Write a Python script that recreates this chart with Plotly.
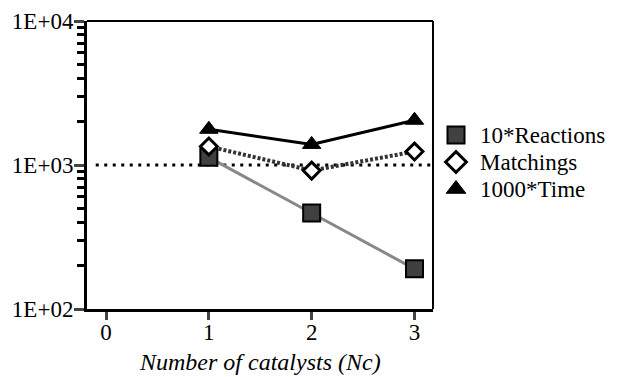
import plotly.graph_objects as go

nc = [1, 2, 3]
reactions10 = [1130, 465, 190]
matchings = [1345, 915, 1240]
time1000 = [1770, 1390, 2045]
ref_level = 1000
y_ticks = [100, 1000, 10000]
y_labels = ["1E+02", "1E+03", "1E+04"]
x_ticks = [0, 1, 2, 3]
x_title = "Number of catalysts (Nc)"
legend_names = ["10*Reactions", "Matchings", "1000*Time"]

FONT = "Liberation Serif, Times New Roman, Times, serif"

# pixel geometry of the figure
W, H = 618, 377
L, R, T, B = 87, 8, 21, 68
PLOT_RIGHT = 433
pw = W - L - R
main_dom = (PLOT_RIGHT - L) / pw
leg_dom0 = (443 - L) / pw

styles = [
    dict(line=dict(color="#888888", width=3),
         marker=dict(symbol="square", size=17, color="#404040", line=dict(color="black", width=2))),
    dict(line=dict(color="#333333", width=4, dash="3px,2px"),
         marker=dict(symbol="diamond", size=13, color="white", line=dict(color="black", width=3))),
    dict(line=dict(color="black", width=3),
         marker=dict(symbol="triangle-up", size=16, color="black", line=dict(color="black", width=1))),
]
values = [reactions10, matchings, time1000]

fig = go.Figure()
for vals, st in zip(values, styles):
    fig.add_trace(go.Scatter(x=nc, y=vals, mode="lines", line=st["line"],
                             showlegend=False, hoverinfo="skip"))
for vals, st, nm in zip(values, styles, legend_names):
    fig.add_trace(go.Scatter(x=nc, y=vals, mode="markers", name=nm,
                             marker=st["marker"], showlegend=False))

# custom legend (compact row spacing) on a hidden helper axis in the right margin
leg_w = W - R - 443
leg_rows_px = [135, 162, 189]
leg_sym_px = 456
leg_txt_px = 478
leg_sizes = [17, 16, 17]
for i, (st, nm) in enumerate(zip(styles, legend_names)):
    py = (H - B - leg_rows_px[i]) / (H - T - B)
    mk = dict(st["marker"])
    mk["size"] = leg_sizes[i]
    fig.add_trace(go.Scatter(x=[(leg_sym_px - 443) / leg_w], y=[py], xaxis="x2", yaxis="y2",
                             mode="markers", marker=mk, showlegend=False, hoverinfo="skip"))
    fig.add_annotation(text=nm, xref="x2", yref="y2", x=(leg_txt_px - 443) / leg_w, y=py,
                       xanchor="left", yanchor="middle", showarrow=False,
                       font=dict(family=FONT, size=23, color="black"))

# dotted reference line at 1E+03
fig.add_shape(type="line", xref="x", yref="y", x0=-0.1, x1=3.18, y0=ref_level, y1=ref_level,
              line=dict(color="black", width=3, dash="3px,5.5px"), layer="below")
# top and right box lines
fig.add_shape(type="line", xref="x domain", yref="y domain", x0=0, x1=1, y0=1, y1=1,
              line=dict(color="black", width=2))
fig.add_shape(type="line", xref="x domain", yref="y domain", x0=1, x1=1, y0=0, y1=1,
              line=dict(color="black", width=2))

fig.add_annotation(text="<i>" + x_title + "</i>", xref="x domain", yref="y domain",
                   x=0.5, y=-0.184, xanchor="center", yanchor="middle",
                   showarrow=False, font=dict(family=FONT, size=24, color="black"))

minor_vals = [m * d for d in (100, 1000) for m in range(2, 10)]

fig.update_layout(
    width=W, height=H,
    margin=dict(l=L, r=R, t=T, b=B),
    paper_bgcolor="white", plot_bgcolor="white",
    font=dict(family=FONT, size=23, color="black"),
    showlegend=False,
    xaxis=dict(domain=[0, main_dom], range=[-0.185, 3.18], tickvals=x_ticks,
               ticks="outside", ticklen=8, tickwidth=3, ticklabelstandoff=-8,
               showline=True, linewidth=3, linecolor="black", showgrid=False, zeroline=False,
               automargin=False),
    yaxis=dict(type="log", range=[2, 4], tickvals=y_ticks, ticktext=y_labels,
               ticks="outside", ticklen=10, tickwidth=3, ticklabelstandoff=-4,
               showline=True, linewidth=3, linecolor="black", showgrid=False, zeroline=False,
               automargin=False,
               minor=dict(tickvals=minor_vals, ticks="outside", ticklen=7, tickwidth=3,
                          tickcolor="black", showgrid=False)),
    xaxis2=dict(domain=[leg_dom0, 1], range=[0, 1], visible=False, fixedrange=True),
    yaxis2=dict(domain=[0, 1], range=[0, 1], anchor="x2", visible=False, fixedrange=True),
)

post = (
    "document.body.style.margin='0';document.body.style.padding='0';"
    "var st=document.createElement('style');"
    "st.textContent='.js-plotly-plot svg text{font-family:\"Liberation Serif\",\"Times New Roman\",Times,serif !important;}';"
    "document.head.appendChild(st);"
)

fig.write_html("out.html", config={"displayModeBar": False}, post_script=post)
